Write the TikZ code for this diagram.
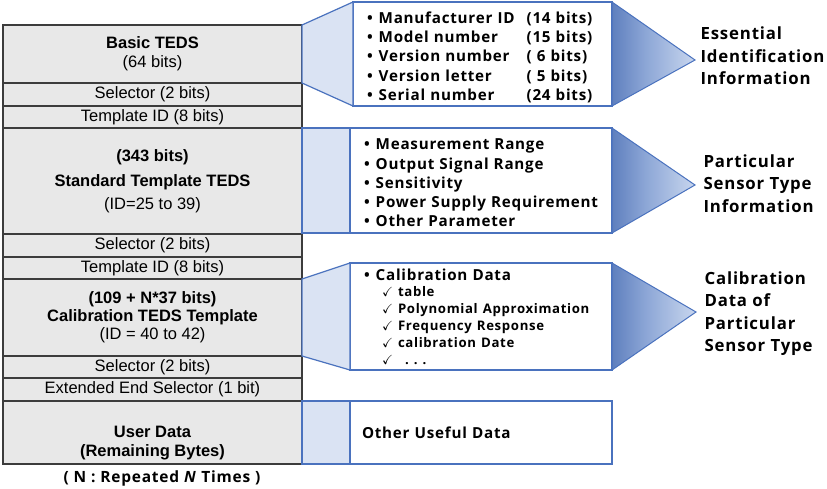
\documentclass[tikz,border=0pt]{standalone}
\usepackage{amssymb}
\usepackage{fontspec}
\setmainfont{Liberation Sans}
\newfontfamily\gothic[LetterSpace=5]{Open Sans}
\usetikzlibrary{positioning}
\definecolor{fieldgray}{RGB}{232,232,232}
\definecolor{fieldline}{RGB}{60,60,60}
\definecolor{myblue}{RGB}{74,114,190}
\definecolor{mylight}{RGB}{218,227,243}
\definecolor{fadeA}{RGB}{40,78,150}
\definecolor{fadeB}{RGB}{72,108,178}
\definecolor{fadeC}{RGB}{140,166,214}
\definecolor{fadeD}{RGB}{200,214,238}
\definecolor{fadeE}{RGB}{238,243,251}
\pgfdeclarehorizontalshading{fade}{100bp}{color(0bp)=(fadeA); color(15bp)=(fadeB); color(45bp)=(fadeC); color(75bp)=(fadeD); color(100bp)=(fadeE)}

\begin{document}
\begin{tikzpicture}[x=1pt,y=-1pt,
  field/.style={draw=fieldline, line width=1.2pt, fill=fieldgray, minimum width=299pt, outer sep=0pt, inner sep=0pt, align=center, font=\fontsize{16.5}{19}\selectfont},
  infobox/.style={draw=myblue, line width=1.2pt, fill=white, outer sep=0pt, inner xsep=14pt, inner ysep=0pt, align=left, font=\gothic\bfseries\fontsize{15.2}{19.3}\selectfont},
  link/.style={draw=myblue, line width=1.2pt, fill=mylight},
  fan/.style={shading=fade, draw=myblue, line width=1pt},
  note/.style={anchor=west, align=left, font=\gothic\bfseries\fontsize{16.8}{22.5}\selectfont}]

  \useasboundingbox[fill=white] (0,0) rectangle (827,488);

  % TEDS fields
  \node[field, minimum height=58pt] (basic) at (152.5,54) {\textbf{Basic TEDS}\\(64 bits)};
  \node[field, minimum height=23pt, below=0pt of basic] (sel1) {Selector (2 bits)};
  \node[field, minimum height=22pt, below=0pt of sel1] (tid1) {Template ID (8 bits)};
  \node[field, minimum height=106pt, below=0pt of tid1] (std) {\textbf{(343 bits)}\\[6pt]\textbf{Standard Template TEDS}\\[4pt](ID=25 to 39)};
  \node[field, minimum height=23pt, below=0pt of std] (sel2) {Selector (2 bits)};
  \node[field, minimum height=22pt, below=0pt of sel2] (tid2) {Template ID (8 bits)};
  \node[field, minimum height=77pt, below=0pt of tid2] (cal) {\textbf{(109 + N*37 bits)}\\[-1pt]\textbf{Calibration TEDS Template}\\[-1pt](ID = 40 to 42)};
  \node[field, minimum height=22pt, below=0pt of cal] (sel3) {Selector (2 bits)};
  \node[field, minimum height=23pt, below=0pt of sel3] (ext) {Extended End Selector (1 bit)};
  \node[field, minimum height=63pt, below=0pt of ext] (user) {\raisebox{-15pt}[0pt][0pt]{\begin{tabular}{c}\textbf{User Data}\\\textbf{(Remaining Bytes)}\end{tabular}}};

  % detail boxes
  \node[infobox, minimum width=259pt, minimum height=104pt, text width=231pt] (ident) at (482.5,54) {%
    \raisebox{-4pt}[\height][\depth]{\begin{tabular}{@{}l@{\hspace{6pt}}l@{\hspace{12pt}}l@{}}
      \textbullet & Manufacturer ID & (14 bits)\\
      \textbullet & Model number & (15 bits)\\
      \textbullet & Version number & (~6 bits)\\
      \textbullet & Version letter & (~5 bits)\\
      \textbullet & Serial number & (24 bits)
    \end{tabular}}};
  \node[infobox, minimum width=262pt, minimum height=105pt, text width=234pt] (sensor) at (481,180.5) {%
    \raisebox{-4pt}[\height][\depth]{\begin{tabular}{@{}l@{\hspace{6pt}}l@{}}
      \textbullet & Measurement Range\\
      \textbullet & Output Signal Range\\
      \textbullet & Sensitivity\\
      \textbullet & Power Supply Requirement\\
      \textbullet & Other Parameter
    \end{tabular}}};
  \node[infobox, minimum width=262pt, minimum height=107pt, text width=234pt] (calib) at (481,316.5) {%
    \textbullet\hspace{6pt}Calibration Data\par
    {\fontsize{13.2}{16.8}\selectfont
    \hspace*{18pt}$\checkmark$\hspace{5pt}table\\
    \hspace*{18pt}$\checkmark$\hspace{5pt}Polynomial Approximation\\
    \hspace*{18pt}$\checkmark$\hspace{5pt}Frequency Response\\
    \hspace*{18pt}$\checkmark$\hspace{5pt}calibration Date\\
    \hspace*{18pt}$\checkmark$\hspace{12pt}.~.~.\par}};
  \node[infobox, minimum width=262pt, minimum height=63pt, text width=238pt, inner xsep=12pt] (other) at (481,432.5) {Other Useful Data};

  \draw[link] (basic.north east) -- (ident.north west) -- (ident.south west) -- (basic.south east) -- cycle;
  \draw[link] (std.north east) rectangle (sensor.south west);
  \draw[link] (cal.north east) -- (calib.north west) -- (calib.south west) -- (cal.south east) -- cycle;
  \draw[link] (user.north east) rectangle (other.south west);

  % pointers
  \coordinate (tipA) at (695,60);
  \coordinate (tipB) at (695,185);
  \coordinate (tipC) at (696,312);
  \shadedraw[fan] (ident.north east) -- (tipA) -- (ident.south east) -- cycle;
  \shadedraw[fan] (sensor.north east) -- (tipB) -- (sensor.south east) -- cycle;
  \shadedraw[fan] (calib.north east) -- (tipC) -- (calib.south east) -- cycle;

  \node[note] (essential) at (697,56) {Essential\\Identification\\Information};
  \node[note] (particular) at (700,183.5) {Particular\\Sensor Type\\Information};
  \node[note] (caldata) at (701,313.5) {Calibration\\Data of\\Particular\\Sensor Type};

  \node[font=\gothic\bfseries\fontsize{15.5}{18}\selectfont] (repnote) at (162,478) {( N : Repeated \textit{N} Times )};
\end{tikzpicture}
\end{document}
